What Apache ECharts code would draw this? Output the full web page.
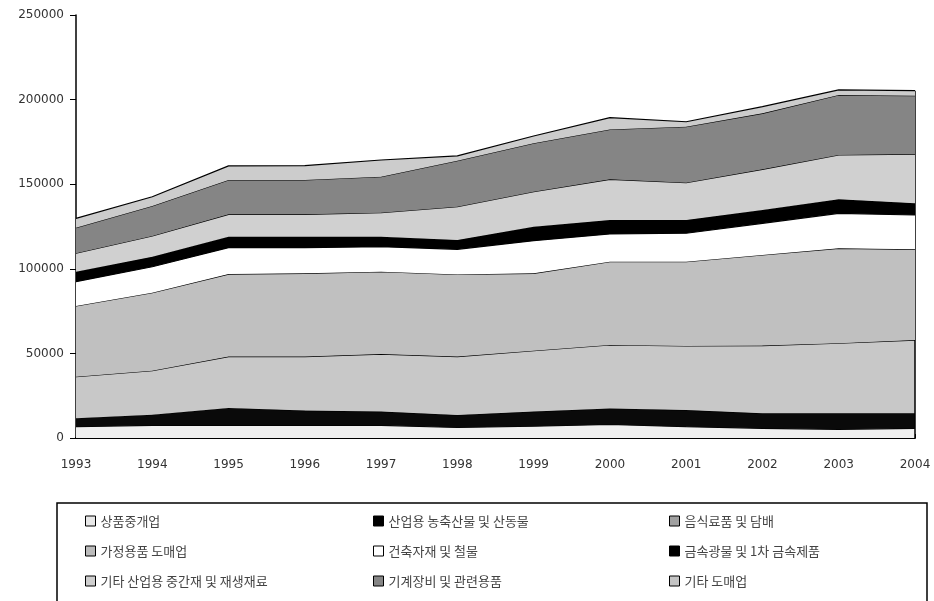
<!DOCTYPE html>
<html>
<head>
<meta charset="utf-8">
<script src="https://cdn.jsdelivr.net/npm/echarts@6/dist/echarts.min.js"></script>
<style>
html,body{margin:0;padding:0;background:#fff;}
#chart{width:934px;height:601px;}
</style>
</head>
<body>
<div id="chart"></div>
<script>
var years = ['1993','1994','1995','1996','1997','1998','1999','2000','2001','2002','2003','2004'];
var yTicks = [0, 50000, 100000, 150000, 200000, 250000];

var seriesNames = ['상품중개업','산업용 농축산물 및 산동물','음식료품 및 담배','가정용품 도매업','건축자재 및 철물','금속광물 및 1차 금속제품','기타 산업용 중간재 및 재생재료','기계장비 및 관련용품','기타 도매업'];

var brokerage    = [6700, 7500, 7500, 7500, 7500, 6200, 7000, 8000, 6700, 5700, 5100, 5700];
var agriProducts = [5000, 6300, 10300, 8700, 8100, 7400, 8600, 9500, 9800, 8900, 9500, 8900];
var foodTobacco  = [24500, 26000, 30300, 31900, 34000, 34500, 36000, 37500, 37900, 40000, 41400, 43300];
var household    = [41800, 46100, 48800, 49200, 48700, 48600, 45700, 49200, 49800, 53600, 56100, 53600];
var construction = [14400, 15300, 15600, 15200, 14800, 14800, 19300, 16400, 16800, 18700, 20700, 20300];
var metals       = [5900, 5900, 6500, 6500, 5900, 5500, 8300, 8200, 7800, 7900, 8300, 6900];
var otherIndust  = [10900, 12300, 13200, 13200, 14200, 19700, 20700, 24100, 22100, 24000, 26200, 29100];
var machinery    = [15100, 17700, 20300, 20300, 21200, 27200, 28600, 29500, 33100, 33100, 35400, 34500];
var otherWhole   = [5500, 5500, 8300, 8500, 9900, 2800, 4300, 6900, 2900, 3900, 3000, 3000];

var seriesData = [brokerage, agriProducts, foodTobacco, household, construction, metals, otherIndust, machinery, otherWhole];
var colors = ['#f0f0f0', '#0a0a0a', '#c8c8c8', '#c0c0c0', '#ffffff', '#000000', '#d0d0d0', '#858585', '#cccccc'];
var legendColors = ['#e8e8e8', '#000000', '#a0a0a0', '#bcbcbc', '#ffffff', '#000000', '#cfcfcf', '#858585', '#c4c4c4'];

var last = years.length - 1;
var total2004 = 0;
seriesData.forEach(function (arr) { total2004 += arr[last]; });

var series = seriesNames.map(function (name, i) {
  var s = {
    name: name,
    type: 'line',
    stack: 'total',
    data: seriesData[i],
    symbol: 'none',
    smooth: false,
    z: 2 + i,
    itemStyle: { color: colors[i] },
    lineStyle: { color: '#000', width: 1.2 },
    areaStyle: { color: colors[i], opacity: 1 }
  };
  if (i === seriesNames.length - 1) {
    s.markLine = {
      silent: true,
      symbol: ['none', 'none'],
      label: { show: false },
      lineStyle: { color: '#000', width: 1.5, type: 'solid' },
      data: [[{ coord: [years[last], 0] }, { coord: [years[last], total2004] }]]
    };
  }
  return s;
});

function legendCol(indices, left) {
  return {
    orient: 'vertical',
    left: left,
    top: 509,
    itemWidth: 10,
    itemHeight: 10,
    itemGap: 16,
    itemTextGap: 7,
    selectedMode: false,
    icon: 'rect',
    textStyle: { fontFamily: 'Noto Sans CJK KR', fontSize: 13, color: '#444', lineHeight: 14 },
    data: indices.map(function (i) {
      return {
        name: seriesNames[i],
        icon: 'rect',
        itemStyle: { color: legendColors[i], borderColor: '#000', borderWidth: 1 }
      };
    })
  };
}

var chart = echarts.init(document.getElementById('chart'), null, { renderer: 'canvas' });
chart.setOption({
  backgroundColor: '#fff',
  animation: false,
  grid: { left: 76, right: 19, top: 15, bottom: 163, containLabel: false },
  xAxis: {
    type: 'category',
    data: years,
    boundaryGap: false,
    axisLine: { lineStyle: { color: '#000', width: 2 } },
    axisTick: { inside: true, length: 4, lineStyle: { color: '#000', width: 1 } },
    axisLabel: { margin: 21, fontFamily: 'DejaVu Sans', fontSize: 12, color: '#333', interval: 0 },
    splitLine: { show: false }
  },
  yAxis: {
    type: 'value',
    min: yTicks[0],
    max: yTicks[yTicks.length - 1],
    interval: yTicks[1] - yTicks[0],
    axisLine: { show: true, lineStyle: { color: '#000', width: 1.5 } },
    axisTick: { show: true, length: 6, lineStyle: { color: '#000', width: 1 } },
    axisLabel: { margin: 12, fontFamily: 'DejaVu Sans', fontSize: 12, color: '#333',
      formatter: function (v) { return String(v); } },
    splitLine: { show: false }
  },
  legend: [
    legendCol([0, 3, 6], 80),
    legendCol([1, 4, 7], 368),
    legendCol([2, 5, 8], 664)
  ],
  graphic: [
    {
      type: 'rect',
      shape: { x: 57, y: 503, width: 870, height: 110 },
      style: { fill: 'none', stroke: '#000', lineWidth: 1.5 },
      silent: true,
      z: 0
    }
  ],
  series: series
});
</script>
</body>
</html>
